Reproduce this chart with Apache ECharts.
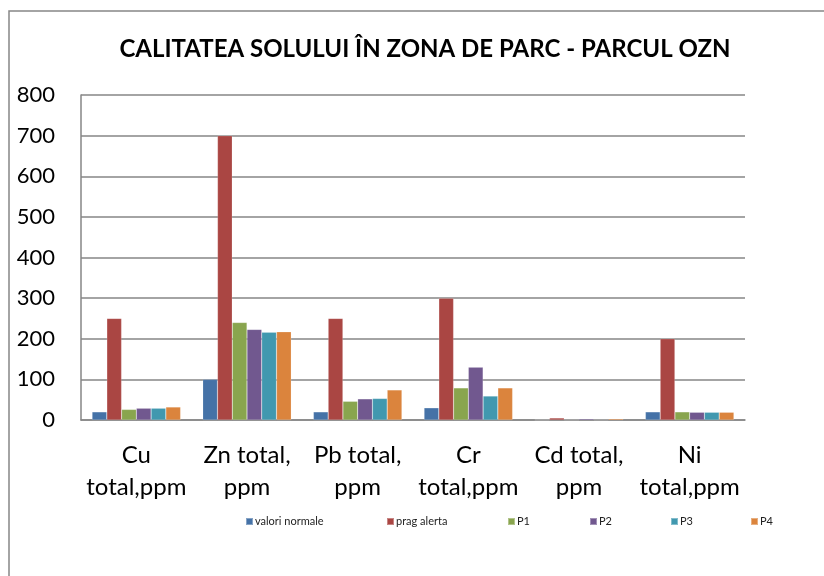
<!DOCTYPE html>
<html><head><meta charset="utf-8">
<script src="https://cdn.jsdelivr.net/npm/echarts@6/dist/echarts.min.js"></script>
<style>html,body{margin:0;padding:0;background:#fff}#c{width:824px;height:576px}</style>
</head><body><div id="c"></div>
<script>
const titleText = 'CALITATEA SOLULUI ÎN ZONA DE PARC - PARCUL OZN';
const categories = ['Cu\ntotal,ppm', 'Zn total,\nppm', 'Pb total,\nppm', 'Cr\ntotal,ppm', 'Cd total,\nppm', 'Ni\ntotal,ppm'];
const seriesNames = ['valori normale', 'prag alerta', 'P1', 'P2', 'P3', 'P4'];
const valoriNormale = [20, 100, 20, 30, 0.3, 20];
const pragAlerta = [250, 700, 250, 300, 5, 200];
const p1 = [26, 240, 46, 79, 0.3, 20];
const p2 = [29, 223, 52, 130, 3, 19];
const p3 = [29, 216, 53, 59, 0.3, 19];
const p4 = [32, 217, 74, 79, 3, 19];
const yTicks = [0, 100, 200, 300, 400, 500, 600, 700, 800];
const colors = ['#4572A7', '#AA4643', '#89A54E', '#71588F', '#4198AF', '#DB843D'];
const legendLeft = [240, 381, 502, 584, 665, 745];

const allData = [valoriNormale, pragAlerta, p1, p2, p3, p4];
const font = 'Lato, "Open Sans", sans-serif';
const chart = echarts.init(document.getElementById('c'));
chart.setOption({
  animation: false,
  color: colors,
  title: {
    text: titleText, left: 420, top: 32, textAlign: 'center',
    textStyle: {fontFamily: font, fontSize: 24, fontWeight: 'bold', color: '#000'}
  },
  legend: seriesNames.map((n, i) => ({
    data: [n], left: legendLeft[i], top: 511, itemWidth: 7, itemHeight: 7, itemGap: 0,
    icon: 'rect', textStyle: {fontFamily: font, fontSize: 11, color: '#222', padding: [0, 0, 0, -3]}
  })),
  grid: {left: 81, top: 95, right: 79, bottom: 156, containLabel: false},
  xAxis: {
    type: 'category', data: categories,
    axisLine: {lineStyle: {color: '#868686', width: 1.5}},
    axisTick: {show: false},
    axisLabel: {fontFamily: font, fontSize: 24, color: '#000', lineHeight: 32, margin: 19, interval: 0}
  },
  yAxis: {
    type: 'value', min: yTicks[0], max: yTicks[yTicks.length - 1], interval: 100,
    axisLine: {show: true, lineStyle: {color: '#868686', width: 1.5}},
    axisTick: {show: false},
    splitLine: {lineStyle: {color: '#868686', width: 1.5}},
    axisLabel: {fontFamily: font, fontSize: 22, color: '#000', margin: 26}
  },
  graphic: [{
    type: 'rect', shape: {x: 9, y: 11, width: 900, height: 700},
    style: {fill: 'none', stroke: '#868686', lineWidth: 1.5}, silent: true
  }],
  series: seriesNames.map((n, i) => ({
    name: n, type: 'bar', data: allData[i], barGap: '0%', barCategoryGap: '20%',
    itemStyle: {color: colors[i], borderColor: 'rgba(255,255,255,0.35)', borderWidth: 0.5}
  }))
});
</script></body></html>
